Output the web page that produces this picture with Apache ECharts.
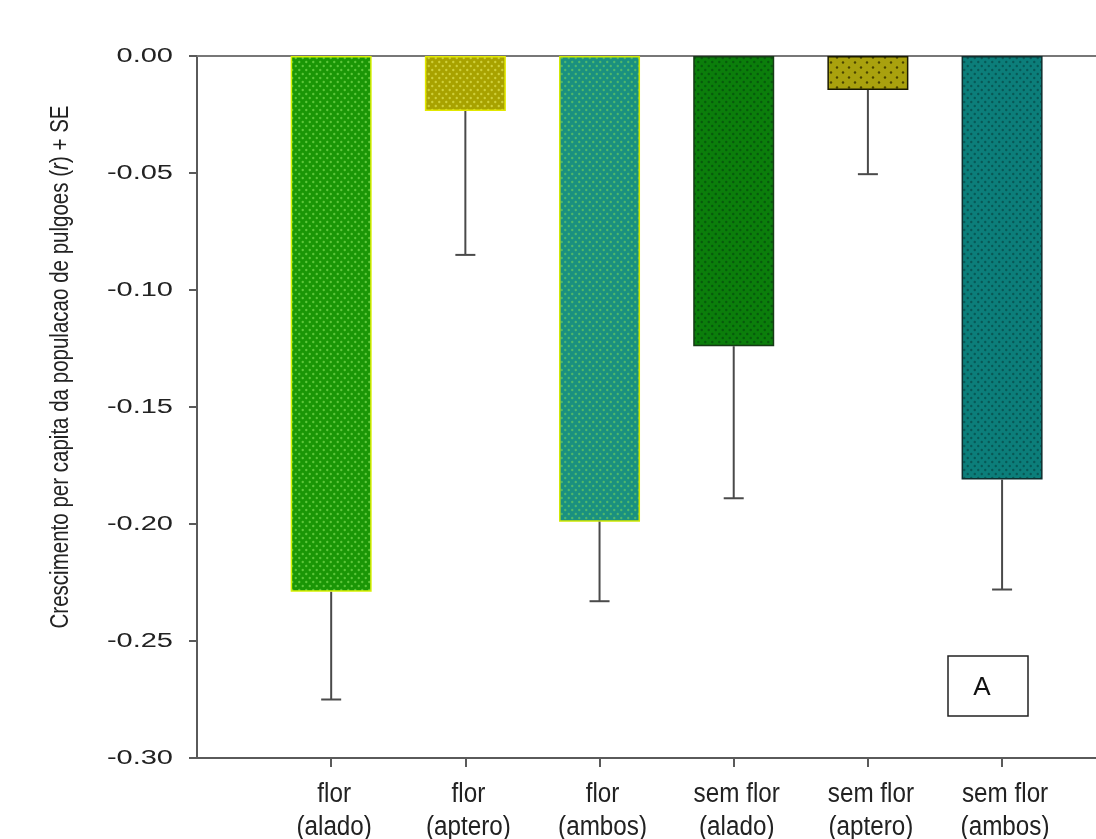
<!DOCTYPE html>
<html>
<head>
<meta charset="utf-8">
<script src="https://cdn.jsdelivr.net/npm/echarts@6/dist/echarts.min.js"></script>
<style>
html,body{margin:0;padding:0;background:#fff;}
#chart{width:1096px;height:839px;}
</style>
</head>
<body>
<div id="chart"></div>
<script>
// ---- data ----
const categories = ['flor\n(alado)', 'flor\n(aptero)', 'flor\n(ambos)', 'sem flor\n(alado)', 'sem flor\n(aptero)', 'sem flor\n(ambos)'];
const growth = [-0.229, -0.0235, -0.199, -0.124, -0.0145, -0.181];
const se = [0.046, 0.0615, 0.034, 0.065, 0.036, 0.047];
const yTicks = [-0.30, -0.25, -0.20, -0.15, -0.10, -0.05, 0.00];
const yTitle = ['Crescimento per capita da populacao de pulgoes (', 'r', ') + SE'];

// ---- styles ----
const barStyles = [
  {bg: '#1a9606', dot: '#5cc53a', border: '#d8f000', tw: 7, th: 8},
  {bg: '#a8a200', dot: '#cfcf3a', border: '#e2e800', tw: 7, th: 8},
  {bg: '#1a9080', dot: '#4fb86a', border: '#d0e800', tw: 7, th: 8},
  {bg: '#0b7e0b', dot: '#075a0c', border: '#173a17', tw: 7, th: 8},
  {bg: '#a9a10e', dot: '#4a4400', border: '#1a1a00', tw: 12, th: 10},
  {bg: '#0c7e7a', dot: '#085856', border: '#0f2e2e', tw: 7, th: 8}
];

function makePattern(bg, dot, w, h) {
  const c = document.createElement('canvas');
  c.width = w; c.height = h;
  const ctx = c.getContext('2d');
  ctx.fillStyle = bg; ctx.fillRect(0, 0, w, h);
  ctx.fillStyle = dot;
  ctx.beginPath(); ctx.arc(w * 0.25, h * 0.25, 1.2, 0, Math.PI * 2); ctx.fill();
  ctx.beginPath(); ctx.arc(w * 0.75, h * 0.75, 1.2, 0, Math.PI * 2); ctx.fill();
  return {image: c, repeat: 'repeat'};
}

const barData = growth.map((v, i) => ({
  value: [i + 1, v],
  itemStyle: {
    color: makePattern(barStyles[i].bg, barStyles[i].dot, barStyles[i].tw, barStyles[i].th),
    borderColor: barStyles[i].border,
    borderWidth: 1.5
  }
}));
const errData = growth.map((v, i) => [i + 1, v, se[i]]);

const chart = echarts.init(document.getElementById('chart'), null, {renderer: 'canvas'});
const axisCol = '#5a5a5a';
const option = {
  animation: false,
  backgroundColor: '#fff',
  grid: [
    {left: 197, right: 0, top: 56, bottom: 81, outerBoundsMode: 'none'}
  ],
  xAxis: [
    {
      type: 'value', gridIndex: 0, min: 0, max: 6.7, interval: 1,
      position: 'bottom',
      axisLine: {show: true, onZero: false, lineStyle: {color: axisCol, width: 2}},
      axisTick: {
        show: true, inside: false, length: 9, lineStyle: {color: axisCol, width: 2},
        customValues: [1, 2, 3, 4, 5, 6]
      },
      splitLine: {show: false},
      axisLabel: {show: false}
    },
    {
      type: 'value', gridIndex: 0, min: 0, max: 6.7, position: 'top',
      axisLine: {show: true, onZero: false, lineStyle: {color: '#777', width: 2}},
      axisTick: {show: false}, axisLabel: {show: false}, splitLine: {show: false}
    }
  ],
  yAxis: [
    {
      type: 'value', gridIndex: 0, min: -0.30, max: 0, interval: 0.05,
      axisLine: {show: true, onZero: false, lineStyle: {color: axisCol, width: 2}},
      axisTick: {show: true, inside: false, length: 8, lineStyle: {color: axisCol, width: 2}},
      splitLine: {show: false},
      axisLabel: {show: false}
    }
  ],
  series: [
    {
      type: 'bar', xAxisIndex: 0, yAxisIndex: 0,
      barWidth: 81, data: barData
    },
    {
      type: 'custom', xAxisIndex: 0, yAxisIndex: 0, z: 5,
      data: errData,
      renderItem: function (params, api) {
        const x = api.value(0), v = api.value(1), e = api.value(2);
        const p0 = api.coord([x, v]);
        const p1 = api.coord([x, v - e]);
        const half = 10;
        const st = {stroke: '#4a4a4a', lineWidth: 2};
        return {
          type: 'group',
          children: [
            {type: 'line', shape: {x1: p0[0], y1: p0[1], x2: p1[0], y2: p1[1]}, style: st},
            {type: 'line', shape: {x1: p1[0] - half, y1: p1[1], x2: p1[0] + half, y2: p1[1]}, style: st}
          ]
        };
      }
    }
  ]
};
chart.setOption(option);

// ---- text drawn as graphics, positioned through the chart's own axes ----
const sansFont = 'Liberation Sans, Arial, sans-serif';
const graphics = [];

// y tick labels (horizontally stretched, as in reference)
yTicks.forEach(v => {
  const py = chart.convertToPixel({yAxisIndex: 0}, v);
  graphics.push({
    type: 'text', x: 173, y: py, scaleX: 1.45,
    style: {text: v.toFixed(2), fontSize: 20, fontFamily: sansFont, fill: '#222', align: 'right', verticalAlign: 'middle'}
  });
});

// x category labels
categories.forEach((c, i) => {
  const px = chart.convertToPixel({xAxisIndex: 0}, i + 1);
  graphics.push({
    type: 'text', x: px + 3, y: 778, scaleX: 0.97, scaleY: 1.08,
    style: {text: c, fontSize: 25, lineHeight: 30.6, fontFamily: sansFont, fill: '#222', align: 'center', verticalAlign: 'top'}
  });
});

// y axis title (narrow, tall glyphs)
const titleSize = 25;
const mc = document.createElement('canvas').getContext('2d');
mc.font = titleSize + 'px ' + sansFont;
let w = mc.measureText(yTitle[0] + yTitle[2]).width;
mc.font = 'italic ' + titleSize + 'px ' + sansFont;
w += mc.measureText(yTitle[1]).width;
const titleScale = 523 / w;
graphics.push({
  type: 'text', x: 61, y: 367, rotation: Math.PI / 2, scaleX: titleScale,
  style: {
    text: '{a|' + yTitle[0] + '}{b|' + yTitle[1] + '}{a|' + yTitle[2] + '}',
    align: 'center', verticalAlign: 'middle',
    rich: {
      a: {fontFamily: sansFont, fontSize: titleSize, fill: '#222'},
      b: {fontFamily: sansFont, fontSize: titleSize, fontStyle: 'italic', fill: '#222'}
    }
  }
});

// panel letter box
graphics.push({
  type: 'rect', shape: {x: 948, y: 656, width: 80, height: 60},
  style: {fill: '#fff', stroke: '#222', lineWidth: 1.5}
});
graphics.push({
  type: 'text', x: 982, y: 688,
  style: {text: 'A', fontSize: 26, fontFamily: sansFont, fill: '#111', align: 'center', verticalAlign: 'middle'}
});

chart.setOption({graphic: graphics});
</script>
</body>
</html>
